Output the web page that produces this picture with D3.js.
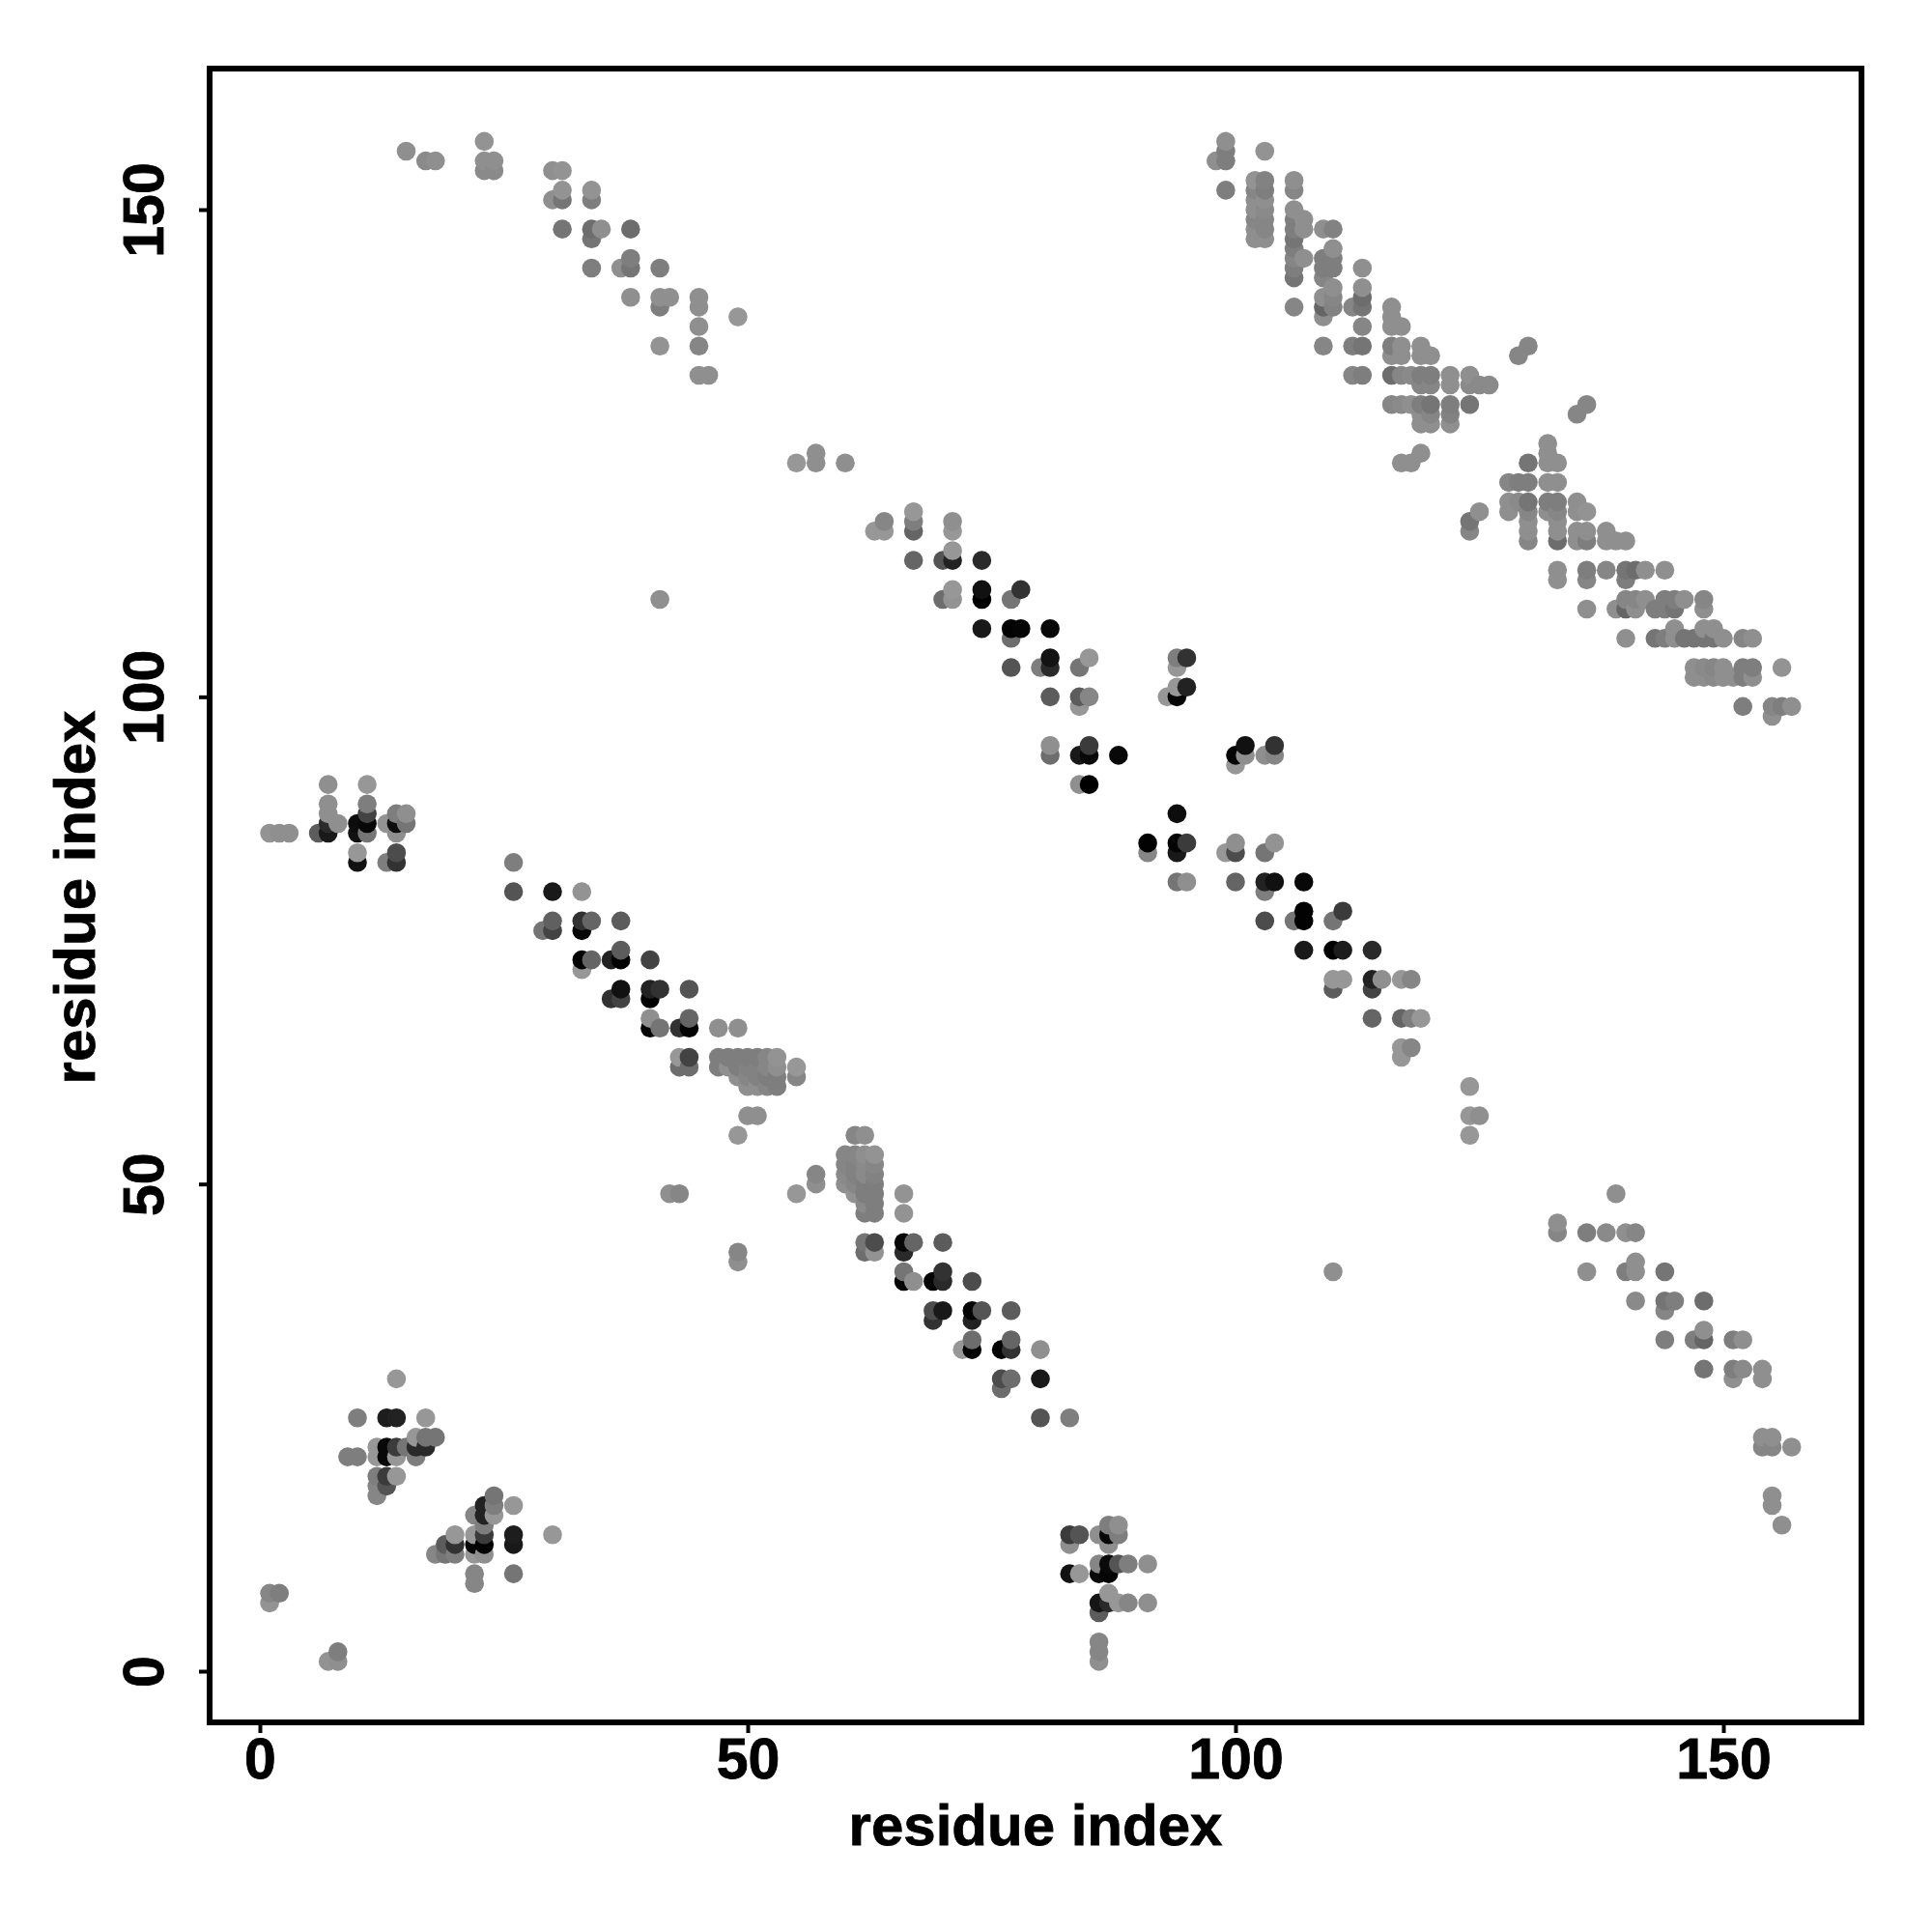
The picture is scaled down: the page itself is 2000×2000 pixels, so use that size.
<!DOCTYPE html>
<html><head><meta charset="utf-8">
<script src="https://cdn.jsdelivr.net/npm/d3@7/dist/d3.min.js"></script>
<style>html,body{margin:0;background:#fff}svg{display:block}text{font-family:"Liberation Sans",Arial,sans-serif;font-weight:700;fill:#000;stroke:#000;stroke-width:0.8px}</style>
</head><body><svg id="c" width="2000" height="2000"></svg>
<script>
// [residue i, residue j, grey level of the contact]
const contactsLowerLeft=[[14,30,0x90],[10,26,0x78],[13,26,0x1c],[14,26,0x20],[17,26,0x90],[16,24,0x90],[17,24,0x70],[18,24,0x70],[12,23,0x90],[13,23,0x08],[14,23,0x38],[15,23,0x70],[16,23,0x28],[17,23,0x28],[9,22,0x78],[10,22,0x78],[12,22,0x90],[13,22,0x08],[14,22,0x90],[16,22,0x78],[12,20,0x78],[13,20,0x38],[14,20,0x90],[12,19,0x80],[13,19,0x50],[12,18,0x80],
[24,18,0x70],[26,17,0x90],[23,17,0x20],[24,17,0x78],[22,16,0x80],[23,16,0x20],[24,16,0x90],[23,15,0x78],[20,14,0x90],[22,14,0x90],[23,14,0x38],[26,14,0x1c],[30,14,0x90],[19,13,0x58],[20,13,0x30],[22,13,0x08],[23,13,0x02],[26,13,0x18],[18,12,0x80],[19,12,0x70],[20,12,0x78],[22,12,0x90],[23,12,0x88],[22,10,0x80],[26,10,0x70],[22,9,0x80],
[1,8,0x80],[2,8,0x78],[1,7,0x8c],[8,2,0x78],[7,1,0x8c],[8,1,0x88]];
const contactsUpperLeft=[[7,91,0x88],[11,91,0x90],[7,89,0x88],[11,89,0x78],[7,88,0x88],[11,88,0x40],[14,88,0x78],[15,88,0x88],[7,87,0x28],[8,87,0x88],[10,87,0x0c],[11,87,0x08],[13,87,0x8c],[14,87,0x0c],[15,87,0x70],[1,86,0x8c],[2,86,0x88],[3,86,0x88],[6,86,0x58],[7,86,0x18],[10,86,0x10],[11,86,0x70],[14,86,0x88],[10,84,0x90],[14,84,0x48],[10,83,0x10],[13,83,0x78],[14,83,0x30],[41,110,0x88]];
const contactsBandA=[[26,83,0x78],[26,80,0x50],[30,80,0x18],[33,80,0x8c],[30,77,0x5c],[33,77,0x30],[34,77,0x60],[37,77,0x58],[29,76,0x70],[30,76,0x40],[33,76,0x08],[37,74,0x58],[33,73,0x02],[34,73,0x60],[36,73,0x20],[37,73,0x02],[40,73,0x40],[33,72,0x90],[37,70,0x10],[40,70,0x20],[41,70,0x30],[44,70,0x50],[36,69,0x30],[37,69,0x40],[40,69,0x02],[40,67,0x88],[44,67,0x60],[40,66,0x05],[41,66,0x70],[43,66,0x30],[44,66,0x05],[47,66,0x88],[49,66,0x88],[43,63,0x90],[44,63,0x40],[47,63,0x78],[48,63,0x78],[49,63,0x78],[50,63,0x78],[51,63,0x78],[52,63,0x80],[53,63,0x8c],[43,62,0x68],[44,62,0x68],[47,62,0x78],[48,62,0x88],[49,62,0x78],[50,62,0x7c],[51,62,0x7c],[52,62,0x80],[53,62,0x88],[55,62,0x90],[49,61,0x88],[50,61,0x80],[51,61,0x7c],[52,61,0x78],[53,61,0x78],[55,61,0x80],[50,60,0x88],[51,60,0x88],[52,60,0x80],[53,60,0x78],[50,57,0x88],[51,57,0x88],[49,55,0x90],[42,49,0x88],[43,49,0x80],[49,43,0x80],[49,42,0x88]];
const contactsBandB=[[61,55,0x80],[62,55,0x88],[60,53,0x80],[61,53,0x80],[62,53,0x88],[63,53,0x8c],[60,52,0x80],[61,52,0x7c],[62,52,0x84],[63,52,0x80],[57,51,0x80],[60,51,0x84],[61,51,0x7c],[62,51,0x84],[63,51,0x7c],[57,50,0x88],[60,50,0x88],[61,50,0x80],[62,50,0x78],[63,50,0x78],[55,49,0x90],[61,49,0x8c],[62,49,0x78],[63,49,0x78],[66,49,0x8c],[62,48,0x84],[63,48,0x78],[62,47,0x78],[63,47,0x78],[66,47,0x8c],[62,44,0x70],[63,44,0x48],[66,44,0x08],[67,44,0x60],[70,44,0x58],[62,43,0x68],[63,43,0x8c],[66,43,0x28],[66,41,0x70],[70,41,0x30],[66,40,0x05],[67,40,0x88],[69,40,0x05],[70,40,0x28],[73,40,0x48],[69,37,0x48],[70,37,0x18],[73,37,0x05],[74,37,0x50],[77,37,0x58],[69,36,0x30],[73,36,0x20],[73,34,0x68],[77,34,0x60],[72,33,0x90],[73,33,0x05],[76,33,0x05],[77,33,0x30],[80,33,0x88],[76,30,0x48],[77,30,0x68],[80,30,0x18],[76,29,0x68],[80,26,0x50],[83,26,0x78]];
const contactsLowerMiddle=[[87,15,0x78],[88,15,0x88],[83,14,0x38],[84,14,0x50],[86,14,0x88],[87,14,0x08],[88,14,0x78],[83,13,0x88],[87,13,0x88],[86,11,0x80],[87,11,0x0a],[88,11,0x50],[89,11,0x78],[91,11,0x88],[83,10,0x10],[84,10,0x90],[86,10,0x0a],[87,10,0x05],[87,8,0x90],[86,7,0x14],[87,7,0x28],[88,7,0x90],[89,7,0x80],[91,7,0x88],[86,6,0x58],[86,3,0x80],[86,2,0x80],[86,1,0x88],[110,41,0x88]];
const contactsTopLeft=[[23,157,0x8c],[15,156,0x88],[17,155,0x84],[18,155,0x88],[23,155,0x88],[24,155,0x88],[23,154,0x84],[24,154,0x84],[30,154,0x88],[31,154,0x8c],[31,152,0x8c],[34,152,0x8c],[30,151,0x88],[31,151,0x70],[34,151,0x78],[31,148,0x70],[34,148,0x68],[35,148,0x88],[38,148,0x68],[34,147,0x70],[38,145,0x78],[34,144,0x78],[37,144,0x88],[38,144,0x70],[41,144,0x78],[38,141,0x88],[41,141,0x88],[42,141,0x88],[45,141,0x88],[41,140,0x78],[45,140,0x88],[49,139,0x90],[45,138,0x88],[41,136,0x8c],[45,136,0x80],[45,133,0x88],[46,133,0x88]];
const contactsBandC=[[55,124,0x90],[57,125,0x88],[57,124,0x88],[60,124,0x88],[67,119,0x90],[64,118,0x80],[67,118,0x78],[71,118,0x88],[63,117,0x90],[64,117,0x90],[67,117,0x60],[71,117,0x90],[71,115,0x90],[67,114,0x60],[70,114,0x50],[71,114,0x20],[74,114,0x28],[71,111,0x90],[74,111,0x10],[78,111,0x30],[70,110,0x68],[71,110,0x8c],[74,110,0x02],[77,110,0x70],[74,107,0x18],[77,107,0x02],[78,107,0x05],[81,107,0x08],[77,106,0x68],[81,104,0x12],[85,104,0x90],[94,104,0x78],[95,104,0x30],[77,103,0x50],[80,103,0x78],[81,103,0x28],[84,103,0x70],[94,103,0x90],[94,101,0x90],[95,101,0x20],[81,100,0x58],[84,100,0x58],[85,100,0x80],[93,100,0x90],[94,100,0x05],[84,99,0x90],[81,95,0x88],[85,95,0x38],[81,94,0x68],[84,94,0x18],[85,94,0x08],[88,94,0x08],[84,91,0x88],[85,91,0x00],[94,88,0x0c]];
const contactsBandD=[[101,95,0x10],[104,95,0x30],[100,94,0x05],[101,94,0x88],[103,94,0x88],[104,94,0x80],[100,93,0x90],[91,85,0x02],[94,85,0x05],[95,85,0x38],[100,85,0x88],[104,85,0x8c],[91,84,0x80],[94,84,0x18],[99,84,0x90],[100,84,0x48],[103,84,0x70],[94,81,0x70],[95,81,0x88],[100,81,0x60],[103,81,0x20],[104,81,0x10],[107,81,0x08],[103,80,0x78],[107,78,0x02],[111,78,0x38],[103,77,0x48],[106,77,0x70],[107,77,0x02],[110,77,0x70],[107,74,0x18],[110,74,0x02],[111,74,0x1c],[114,74,0x28],[110,71,0x90],[111,71,0x90],[114,71,0x20],[115,71,0x88],[117,71,0x90],[118,71,0x80],[110,70,0x58],[114,70,0x40],[114,67,0x60],[117,67,0x60],[118,67,0x78],[119,67,0x90],[117,64,0x90],[118,64,0x80],[117,63,0x90],[124,60,0x90],[124,57,0x90],[125,57,0x88],[124,55,0x90]];
const contactsTopRight=[[99,157,0x88],[99,156,0x78],[103,156,0x8c],[98,155,0x88],[99,155,0x78],[102,153,0x8c],[103,153,0x7c],[106,153,0x88],[99,152,0x78],[102,152,0x80],[103,152,0x78],[106,152,0x80],[102,151,0x88],[103,151,0x88],[102,150,0x88],[103,150,0x84],[106,150,0x88],[102,149,0x80],[103,149,0x80],[106,149,0x78],[107,149,0x88],[102,148,0x88],[103,148,0x80],[106,148,0x78],[107,148,0x88],[109,148,0x88],[110,148,0x7c],[102,147,0x88],[103,147,0x88],[106,147,0x70],[106,146,0x78],[110,146,0x88],[106,145,0x80],[107,145,0x88],[109,145,0x78],[110,145,0x78],[106,144,0x78],[109,144,0x78],[110,144,0x78],[113,144,0x88],[106,143,0x70],[109,143,0x80],[110,142,0x88],[113,142,0x88],[109,141,0x88],[110,141,0x80],[113,141,0x68],[106,140,0x80],[109,140,0x60],[110,140,0x7c],[112,140,0x80],[113,140,0x70],[116,140,0x88],[109,139,0x88],[116,139,0x88],[113,138,0x80],[116,138,0x88],[117,138,0x88],[109,136,0x80],[112,136,0x78],[113,136,0x70],[116,136,0x78],[117,136,0x88],[119,136,0x88],[130,136,0x80],[116,135,0x88],[117,135,0x88],[119,135,0x88],[120,135,0x88],[129,135,0x80],[112,133,0x80],[113,133,0x78],[116,133,0x68],[117,133,0x80],[118,133,0x84],[119,133,0x78],[120,133,0x78],[122,133,0x88],[124,133,0x88],[119,132,0x80],[120,132,0x80],[122,132,0x88],[124,132,0x84],[125,132,0x84],[126,132,0x84],[116,130,0x80],[117,130,0x84],[118,130,0x88],[119,130,0x78],[120,130,0x70],[122,130,0x78],[124,130,0x70],[119,129,0x88],[120,129,0x80],[122,129,0x7c],[119,128,0x88],[120,128,0x88],[122,128,0x88],[119,125,0x88],[117,124,0x88],[118,124,0x88]];
const contactsBandE=[[136,130,0x80],[135,129,0x80],[132,126,0x88],[132,125,0x88],[130,124,0x70],[132,124,0x88],[133,124,0x88],[128,122,0x80],[129,122,0x78],[130,122,0x78],[132,122,0x88],[133,122,0x88],[128,120,0x88],[129,120,0x84],[130,120,0x70],[132,120,0x78],[133,120,0x78],[135,120,0x88],[125,119,0x88],[128,119,0x88],[130,119,0x80],[132,119,0x88],[133,119,0x80],[135,119,0x88],[136,119,0x8c],[124,118,0x70],[130,118,0x88],[133,118,0x88],[124,117,0x80],[130,117,0x88],[133,117,0x88],[135,117,0x88],[136,117,0x88],[138,117,0x88],[130,116,0x80],[133,116,0x68],[135,116,0x88],[136,116,0x78],[138,116,0x88],[139,116,0x88],[140,116,0x88],[133,113,0x88],[136,113,0x78],[138,113,0x80],[140,113,0x70],[141,113,0x68],[142,113,0x88],[144,113,0x88],[133,112,0x88],[136,112,0x80],[140,112,0x78],[140,110,0x80],[141,110,0x80],[142,110,0x88],[144,110,0x78],[145,110,0x78],[146,110,0x88],[148,110,0x80],[136,109,0x88],[139,109,0x88],[140,109,0x60],[141,109,0x88],[143,109,0x78],[144,109,0x78],[145,109,0x70],[148,109,0x88],[145,107,0x88],[148,107,0x88],[149,107,0x88],[140,106,0x88],[143,106,0x70],[144,106,0x78],[145,106,0x88],[146,106,0x70],[147,106,0x70],[148,106,0x70],[149,106,0x70],[150,106,0x88],[152,106,0x80],[153,106,0x88],[147,103,0x88],[148,103,0x84],[149,103,0x80],[150,103,0x88],[152,103,0x78],[153,103,0x78],[156,103,0x8c],[147,102,0x88],[148,102,0x88],[149,102,0x84],[150,102,0x88],[151,102,0x88],[152,102,0x78],[153,102,0x88],[152,99,0x78],[155,99,0x80],[156,99,0x78],[157,99,0x88],[155,98,0x88]];
const contactsLowerRight=[[139,49,0x88],[133,46,0x88],[133,45,0x80],[136,45,0x78],[138,45,0x84],[140,45,0x88],[141,45,0x80],[141,42,0x88],[136,41,0x88],[140,41,0x78],[141,41,0x88],[144,41,0x70],[141,38,0x84],[144,38,0x70],[145,38,0x78],[148,38,0x68],[144,37,0x80],[148,35,0x88],[144,34,0x78],[147,34,0x78],[148,34,0x60],[151,34,0x78],[152,34,0x88],[148,31,0x70],[151,31,0x78],[152,31,0x84],[154,31,0x88],[151,30,0x88],[154,30,0x88],[154,24,0x88],[155,24,0x88],[154,23,0x80],[155,23,0x80],[157,23,0x88],[155,18,0x88],[155,17,0x88],[156,15,0x88]];
const tickValues=[0,50,100,150];
const axisTitle="residue index";

const contacts=[...contactsLowerLeft,...contactsUpperLeft,...contactsBandA,...contactsBandB,...contactsLowerMiddle,...contactsTopLeft,...contactsBandC,...contactsBandD,...contactsTopRight,...contactsBandE,...contactsLowerRight]
  .sort((a,b)=>a[0]-b[0]||a[1]-b[1]);

const box={left:217,right:1927,top:71,bottom:1783};
const x=d3.scaleLinear().domain([0,150]).range([269,1784]);
const y=d3.scaleLinear().domain([0,150]).range([1730,217]);
const shade=d3.scaleLinear().domain([0,0x90,255]).range(["#000","#979797","#fff"]);
const svg=d3.select("#c");

svg.append("g").selectAll("circle").data(contacts).join("circle")
  .attr("cx",d=>x(d[0])).attr("cy",d=>y(d[1])).attr("r",9.8)
  .attr("fill",d=>shade(d[2]));

svg.append("rect").attr("x",box.left).attr("y",box.top)
  .attr("width",box.right-box.left).attr("height",box.bottom-box.top)
  .attr("fill","none").attr("stroke","#000").attr("stroke-width",6);

const xAxis=svg.append("g").attr("transform",`translate(0,${box.bottom})`)
  .call(d3.axisBottom(x).tickValues(tickValues).tickSize(11).tickPadding(9).tickFormat(d3.format("d")));
const yAxis=svg.append("g").attr("transform",`translate(${box.left},0)`)
  .call(d3.axisLeft(y).tickValues(tickValues).tickSize(11).tickPadding(9).tickFormat(d3.format("d")));
[xAxis,yAxis].forEach(a=>{
  a.select(".domain").remove();
  a.selectAll("line").attr("stroke","#000").attr("stroke-width",4);
  a.selectAll("text").style("font-size","59px").attr("fill","#000");
});
xAxis.selectAll("text").attr("y",null).attr("dy",null).attr("dominant-baseline",null)
  .attr("transform",null).attr("y",58);
yAxis.selectAll("text").attr("x",null).attr("dy",null)
  .attr("text-anchor","middle")
  .attr("transform","translate(-48,0) rotate(-90)").attr("x",0).attr("y",0);

svg.append("text").attr("x",1072).attr("y",1910).attr("text-anchor","middle").style("font-size","60px").text(axisTitle);
svg.append("text").attr("transform","translate(98,929) rotate(-90)").attr("text-anchor","middle").style("font-size","60px").text(axisTitle);
</script></body></html>
